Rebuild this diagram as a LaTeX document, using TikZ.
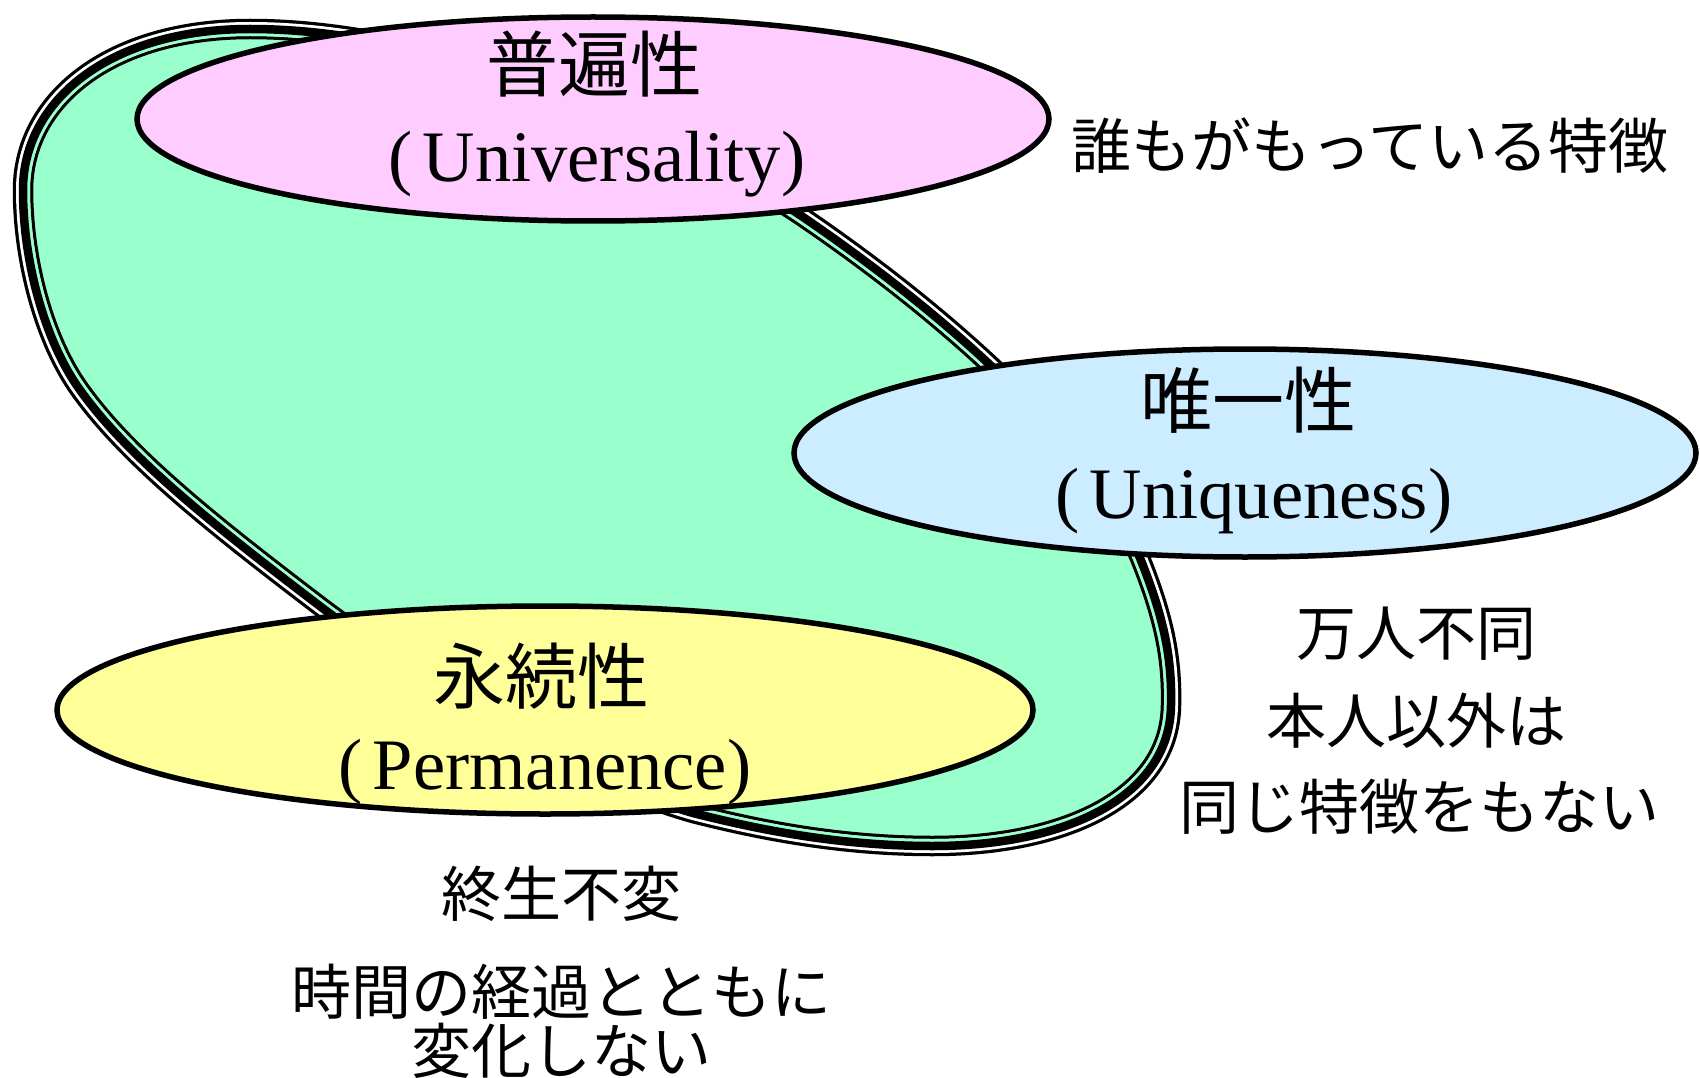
\documentclass[tikz,border=0pt]{standalone}
\usepackage{fontspec}
\setmainfont{Liberation Serif}
\newfontfamily\jp{Noto Sans CJK JP}
\usetikzlibrary{shapes.geometric}
\definecolor{gfill}{HTML}{99FFCC}
\definecolor{pfill}{HTML}{FFCCFF}
\definecolor{bfill}{HTML}{CCECFF}
\definecolor{yfill}{HTML}{FFFF99}
\begin{document}
\begin{tikzpicture}[x=1pt,y=-1pt,
  oval/.style={ellipse, draw=black, line width=5.5pt, inner sep=0pt},
  bigjp/.style={font=\jp\fontsize{72}{80}\selectfont, inner sep=0pt, anchor=center},
  enlab/.style={font=\fontsize{72.5}{80}\selectfont, inner sep=0pt, anchor=base},
  smjp/.style={font=\jp\fontsize{60}{66}\selectfont, inner sep=0pt, anchor=center}]
\useasboundingbox (0,0) rectangle (1700,1078);
\fill[white] (0,0) rectangle (1700,1078);
\def\greenpath{(250,29) .. controls (450,29) and (680,135) .. (800,215)
 .. controls (940,310) and (1090,440) .. (1140,558)
 .. controls (1165,620) and (1172,660) .. (1171,705)
 .. controls (1170,800) and (1060,846) .. (933,846)
 .. controls (840,846) and (760,830) .. (693,813)
 .. controls (560,775) and (420,680) .. (325,610)
 .. controls (220,530) and (130,460) .. (80,390)
 .. controls (44,340) and (23,260) .. (23,190)
 .. controls (23,100) and (110,29) .. (250,29) -- cycle}
\fill[gfill] \greenpath;
\draw[black, line width=20.5pt, line join=round] \greenpath;
\draw[white, line width=14pt, line join=round] \greenpath;
\begin{scope}
  \clip \greenpath;
  \draw[gfill, line width=14pt, line join=round] \greenpath;
\end{scope}
\draw[black, line width=8.5pt, line join=round] \greenpath;
% ellipses
\node[oval, fill=pfill, minimum width=912pt, minimum height=204pt] (univ) at (593,119) {};
\node[oval, fill=bfill, minimum width=902pt, minimum height=208pt] (uniq) at (1245,453) {};
\node[oval, fill=yfill, minimum width=976pt, minimum height=208pt] (perm) at (545,710) {};
% labels in ellipses
\node[bigjp] (univjp) at (594,64) {普遍性};
\node[enlab] (univen) at (597,182) {(\kern0.14em Universality)};
\node[bigjp] (uniqjp) at (1248,400) {唯一性};
\node[enlab] (uniqen) at (1254,518) {(\kern0.14em Uniqueness)};
\node[bigjp] (permjp) at (541,676) {永続性};
\node[enlab] (permen) at (545,789) {(\kern0.14em Permanence)};
% descriptions
\node[smjp] (d1) at (1370,146) {誰もがもっている特徴};
\node[smjp] (d2) at (1416,634) {万人不同};
\node[smjp] (d3) at (1416,721) {本人以外は};
\node[smjp] (d4) at (1419,807) {同じ特徴をもない};
\node[smjp] (d5) at (561,894) {終生不変};
\node[smjp] (d6) at (561,992) {時間の経過とともに};
\node[smjp] (d7) at (561,1051) {変化しない};
\end{tikzpicture}
\end{document}
